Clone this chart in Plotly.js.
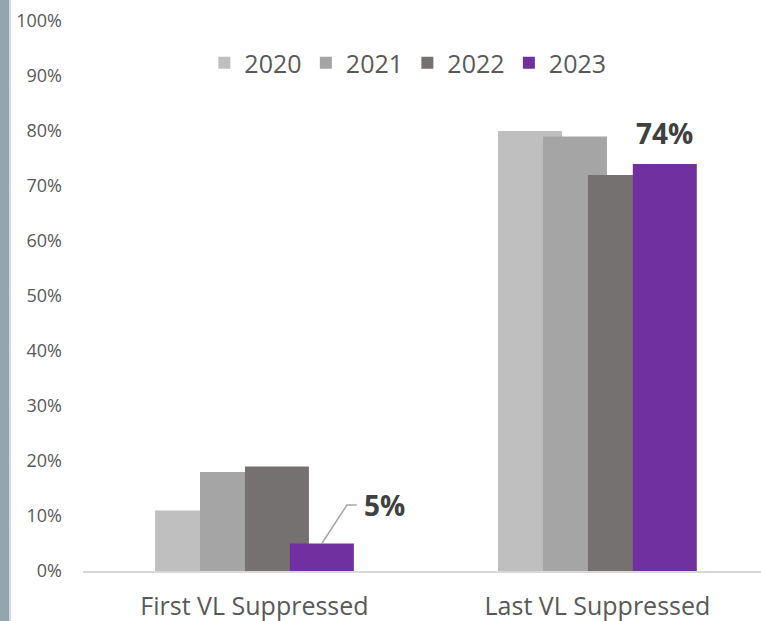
<!DOCTYPE html>
<html>
<head>
<meta charset="utf-8">
<script src="https://cdn.plot.ly/plotly-3.0.1.min.js"></script>
<style>
  html, body { margin: 0; padding: 0; background: #ffffff; }
  #wrap { position: relative; width: 761px; height: 621px; }
  #chart { width: 761px; height: 621px; }
  #strip { position: absolute; left: 0; top: 0; width: 9px; height: 621px; background: #93a6b0; border-right: 2px solid #d5dde1; }
</style>
</head>
<body>
<div id="wrap">
  <div id="chart"></div>
  <div id="strip"></div>
</div>
<script>
// ---- data ----
const categories = ["First VL Suppressed", "Last VL Suppressed"];
const years = ["2020", "2021", "2022", "2023"];
const v2020 = [11, 80];
const v2021 = [18, 79];
const v2022 = [19, 72];
const v2023 = [5, 74];
const yTickVals = [0, 10, 20, 30, 40, 50, 60, 70, 80, 90, 100];
const yTickText = ["0%", "10%", "20%", "30%", "40%", "50%", "60%", "70%", "80%", "90%", "100%"];
const labelFirst = "5%";
const labelLast = "74%";

// ---- styling ----
const colors = ["#bfbfbf", "#a5a5a5", "#767171", "#7030a0"];
const series = [v2020, v2021, v2022, v2023];
const barW = 0.1866;
const step = 0.131;
const xIdx = categories.map((c, i) => i);

const traces = series.map((vals, i) => ({
  type: "bar",
  name: years[i],
  x: xIdx,
  y: vals,
  width: barW,
  offset: (i - 1.5) * step - barW / 2,
  marker: { color: colors[i], line: { width: 0 } },
  hoverinfo: "skip"
}));

const c2023 = (3 - 1.5) * step; // center offset of 2023 bar
const f = "'Open Sans', 'Noto Sans', sans-serif";

const layout = {
  width: 761,
  height: 621,
  margin: { l: 83, r: 0, t: 21, b: 50 },
  paper_bgcolor: "#ffffff",
  plot_bgcolor: "#ffffff",
  barmode: "overlay",
  showlegend: true,
  legend: {
    orientation: "h",
    x: 0.179, y: 0.9236, xanchor: "left", yanchor: "middle",
    font: { family: f, size: 25, color: "#595959" },
    entrywidth: 56.5,
    traceorder: "normal",
    bgcolor: "rgba(0,0,0,0)"
  },
  xaxis: {
    type: "linear",
    range: [-0.5, 1.477],
    tickvals: xIdx,
    ticktext: categories,
    showgrid: false,
    zeroline: false,
    showline: true,
    linecolor: "#d9d9d9",
    linewidth: 1.5,
    ticks: "",
    tickfont: { family: f, size: 25, color: "#595959" },
    ticklabelstandoff: 12
  },
  yaxis: {
    range: [0, 100],
    tickvals: yTickVals,
    ticktext: yTickText,
    showgrid: false,
    zeroline: false,
    showline: false,
    ticks: "",
    tickfont: { family: f, size: 18, color: "#595959" },
    ticklabelstandoff: 20
  },
  shapes: [{
    type: "path",
    xref: "x", yref: "y",
    path: "M " + (xIdx[0] + c2023) + "," + v2023[0] +
          " L " + (xIdx[0] + c2023 + 0.073) + "," + (v2023[0] + 7) +
          " L " + (xIdx[0] + c2023 + 0.102) + "," + (v2023[0] + 7),
    line: { color: "#a6a6a6", width: 1.5 }
  }],
  annotations: [
    {
      x: xIdx[0] + c2023 + 0.183, y: v2023[0] + 7,
      xref: "x", yref: "y",
      text: "<b>" + labelFirst + "</b>",
      showarrow: false,
      font: { family: f, size: 28, color: "#404040" }
    },
    {
      x: xIdx[1] + c2023, y: v2023[1],
      xref: "x", yref: "y",
      text: "<b>" + labelLast + "</b>",
      showarrow: false,
      yanchor: "bottom",
      yshift: 10,
      font: { family: f, size: 28, color: "#404040" }
    }
  ]
};

Plotly.newPlot("chart", traces, layout, { displayModeBar: false, staticPlot: true });
</script>
</body>
</html>
